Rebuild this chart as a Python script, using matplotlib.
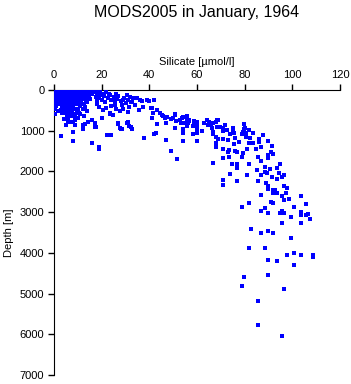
import matplotlib
matplotlib.use("Agg")
import matplotlib.pyplot as plt

# (silicate [umol/l], depth [m])
surface_pts = [
    (0.5, 10), (1.5, 15), (2.5, 8), (3.5, 12), (4.5, 10), (5.5, 5), (6.5, 14), (7.5, 10),
    (8.5, 6), (9.5, 12), (10.5, 10), (11.5, 8), (12.5, 15), (13.5, 5), (14.5, 10), (15.5, 12),
    (16.5, 8), (17.5, 20), (18.5, 25), (19.5, 15),
    (0.8, 60), (2, 55), (3, 65), (4.2, 50), (5, 60), (6.2, 70), (7, 55), (8.3, 62), (9, 50),
    (10.2, 65), (11, 58), (12.3, 60), (13, 52), (14.2, 66), (15.5, 55), (16.8, 60), (18, 70),
    (0.6, 110), (1.8, 105), (3.2, 115), (4, 100), (5.5, 110), (6.5, 120), (7.8, 105), (9, 112),
    (10, 100), (11.2, 118), (12.5, 108), (13.6, 100), (14.8, 115), (16, 110), (19.2, 120),
    (1, 170), (2.2, 160), (3.5, 175), (4.6, 165), (5.8, 180), (7, 170), (8, 160), (9.3, 175),
    (10.5, 165), (11.8, 180), (13, 170), (14.5, 160), (17.5, 175),
    (0.7, 230), (2, 220), (3, 240), (4.3, 225), (5.3, 235), (6.8, 220), (7.5, 245), (8.8, 230),
    (10, 220), (11, 240), (12.2, 228), (13.5, 235), (15, 222), (18.2, 240),
    (0.5, 290), (1.5, 300), (3, 285), (4, 295), (5, 280), (6, 300), (7.2, 290), (8.5, 285),
    (9.5, 300), (11.5, 290), (14, 295),
    (0.5, 350), (2.5, 340), (4, 355), (5, 345), (6, 360), (7.5, 350), (9, 340), (10.5, 355),
    (12.5, 345), (1, 400), (3.5, 410), (4.5, 395), (6, 405), (7, 400), (8, 415), (11, 400),
    (13, 410), (0.5, 460), (4, 470), (5.5, 455), (6.5, 465), (8.5, 460), (10, 470), (12, 455),
    (1.5, 520), (5, 515), (6, 525), (7.5, 520), (9.5, 530), (14, 515), (0.6, 580), (4.5, 575),
    (6.5, 585), (8, 580), (11, 590), (5.5, 640), (7, 650), (9, 635), (12.5, 645), (4, 700),
    (6, 710), (10, 695), (4.8, 721), (5.9, 770), (9, 737), (10.6, 573), (12, 852), (16, 737),
    (17, 803), (17.8, 918), (12, 950), (6.5, 780), (8, 790), (5, 850), (9, 860), (13, 840),
    (3.5, 560), (2.8, 500),
]

middle_pts = [
    (20.5, 100), (21, 150), (22, 60), (19, 200), (20, 250), (21.5, 300), (18, 350), (22.5, 200),
    (23.5, 130), (24, 250), (25, 180), (25.5, 320), (26.5, 220), (27, 140), (28, 280), (28.5, 380),
    (29.5, 200), (30, 330), (31, 250), (31.5, 420), (32.5, 300), (33, 200), (34, 370), (34.7, 188),
    (36.8, 270), (35.8, 492), (37.2, 410), (24, 400), (26, 470), (27.5, 520), (29, 460), (31, 540),
    (20.7, 492), (22, 430), (23.5, 560), (25.5, 380), (19, 410), (30.5, 120), (32, 160), (23, 100),
    (26, 90), (24.9, 623), (27, 803), (30.8, 803), (31.6, 885), (27.7, 926), (28.4, 967),
    (32.6, 967), (23.5, 598), (20, 680), (25.6, 246), (29.1, 246), (32.6, 287), (36.1, 246),
    (38.9, 246), (42, 246), (41, 451), (43.1, 492), (45.2, 615), (47.3, 656), (50.1, 696),
    (50.8, 615), (52.9, 737), (55.7, 696), (56.4, 819), (59.9, 778), (64.1, 737), (64.8, 860),
    (66.9, 819), (68.3, 737), (69.7, 901), (75.3, 942), (80.2, 942), (39.7, 270), (41.9, 246),
    (40.8, 434), (41.5, 557), (41.1, 680), (44.3, 573), (45.7, 639), (46.4, 680), (48.9, 721),
    (47.1, 819), (50.6, 598), (51.3, 762), (53.7, 680), (53.4, 819), (55.9, 639), (56.5, 737),
    (56.2, 819), (59, 786), (58.3, 885), (50.9, 926), (54.1, 967),
    (2.8, 1130), (8.1, 1040), (8.1, 1245), (12, 942), (14.4, 778), (16.1, 1310), (17.2, 917),
    (19, 1392), (19, 1441), (22.1, 1105), (24.1, 1114), (26.9, 843), (28.3, 966), (31.2, 794),
    (32.2, 917), (37.9, 1187), (42.1, 1089), (42.8, 1048), (43.1, 843), (47, 1228), (49, 1490),
    (51.8, 1703), (54, 1048), (54, 1261), (55.7, 655), (58.2, 884), (59.9, 1065), (59.9, 1253),
    (58.8, 753), (60.2, 819),
]

deep_pts = [
    (54, 671), (55.9, 639), (55.9, 720), (56.8, 753), (55, 819), (55.9, 884), (58.7, 778),
    (59.6, 819), (59.9, 901), (59.9, 983), (54, 1048), (58.2, 1081), (62, 1007), (62.9, 819),
    (64.1, 737), (65.2, 778), (65.7, 860), (66.9, 819), (68, 778), (68.7, 737), (66.2, 942),
    (68.3, 901), (70.8, 942), (70.8, 999), (71.9, 860), (66.9, 1024), (66.9, 1081), (68, 1147),
    (68.9, 1212), (71.1, 1212), (72.7, 983), (73.8, 1081), (75.3, 983), (75.7, 1065), (73.2, 1228),
    (75.9, 1187), (75.7, 1327), (77.8, 1286), (79.7, 835), (79.7, 966), (82, 983), (79.2, 1040),
    (80.6, 1065), (78.9, 1089), (80.6, 1147), (82.2, 1187), (83.6, 1065), (82, 1310), (83.6, 1310),
    (85.9, 1212), (85.9, 1269), (87.8, 1105), (89.8, 1253), (86.7, 1408), (84.8, 1449),
    (80.8, 1441), (79.2, 1540), (76.6, 1523), (75.9, 1490), (73.2, 1515), (73.6, 1474),
    (70.8, 1457), (67.8, 1392), (67.8, 1294), (70.8, 1679), (73.6, 1654), (78.7, 1638),
    (85.5, 1638), (86.9, 1736), (89.9, 1679), (89.9, 1605), (90.9, 1523), (91.6, 1376), (92, 1572),
    (66.9, 1802), (74.8, 1826), (76.9, 1826), (81.7, 1826), (76.9, 1925), (85, 1966), (88.7, 1900),
    (90.6, 1949), (88.7, 2006), (89.5, 2031), (86.7, 2096), (91.6, 2129), (93.7, 1925),
    (94.8, 1826), (94.4, 2047), (95.7, 2145), (96.6, 2096), (93.7, 2194), (73.8, 2063),
    (80.8, 2096), (70.8, 2211), (70.8, 2342), (76.9, 2244), (85.7, 2244), (88.9, 2293),
    (89.8, 2358), (89.9, 2424), (91.8, 2457), (92.7, 2457), (91.8, 2522), (93.7, 2539),
    (96.6, 2358), (97.6, 2416), (97.3, 2522), (95.8, 2596), (98.7, 2686), (96.6, 2703),
    (86.7, 2588), (90.9, 2752), (91.8, 2784), (103.8, 2612), (105.7, 2801), (100.8, 2883),
    (78.7, 2883), (81.7, 2784), (86.9, 2981), (88.7, 2907), (89.8, 3030), (94.8, 3030),
    (95.7, 2964), (96.6, 3030), (99.4, 3112), (103.8, 2989), (103.8, 3079), (105.7, 3071),
    (106.7, 3055), (107.4, 3161), (95.8, 3259), (103.8, 3276), (82.8, 3423), (86.7, 3521),
    (89.8, 3456), (91.8, 3521), (99.6, 3644), (81.7, 3882), (88.7, 3890), (97.6, 4046),
    (100.8, 4013), (103.8, 4062), (108.8, 4054), (108.5, 4095), (89.9, 4177), (93.7, 4193),
    (100.8, 4308), (79.9, 4586), (89.8, 4553), (78.7, 4816), (96.6, 4889), (85.7, 5192),
    (85.7, 5782), (95.7, 6052),
]

x_ticks = [0, 20, 40, 60, 80, 100, 120]
y_ticks = [0, 1000, 2000, 3000, 4000, 5000, 6000, 7000]

plt.rcParams['font.family'] = ['Liberation Sans', 'DejaVu Sans']

fig = plt.figure(figsize=(3.51, 3.84), dpi=100)
ax = fig.add_axes([54 / 351, 1 - 375 / 384, 286 / 351, 285 / 384])

for pts in (surface_pts, middle_pts, deep_pts):
    si = [p[0] for p in pts]
    dep = [p[1] for p in pts]
    ax.scatter(si, dep, marker='s', s=5, color='#0000ff', linewidths=0, zorder=3)

ax.set_xlim(0, 120)
ax.set_ylim(7000, 0)
ax.set_xticks(x_ticks)
ax.set_yticks(y_ticks)
ax.xaxis.tick_top()
ax.xaxis.set_label_position('top')
ax.spines['right'].set_visible(False)
ax.spines['bottom'].set_visible(False)
ax.tick_params(direction='out', length=4, width=1, labelsize=8, pad=3, colors='black')
ax.set_xlabel('Silicate [µmol/l]', fontsize=8, labelpad=4)
ax.set_ylabel('Depth [m]', fontsize=8, labelpad=4)

# title sits centred over the plot area, not the figure
fig.text(197 / 351, 1 - 12 / 384, 'MODS2005 in January, 1964',
         ha='center', va='center', fontsize=11.5)

fig.savefig('out.png', dpi=100)
